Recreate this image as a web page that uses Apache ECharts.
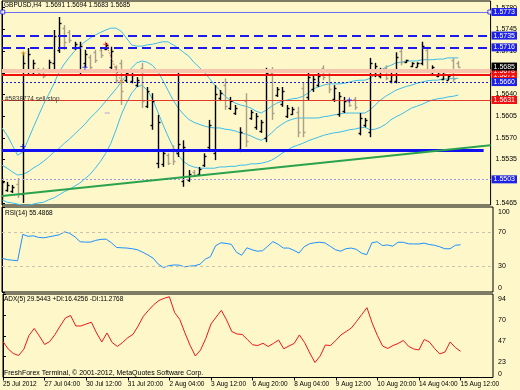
<!DOCTYPE html>
<html>
<head>
<meta charset="utf-8">
<script src="https://cdn.jsdelivr.net/npm/echarts@6.0.0/dist/echarts.min.js"></script>
<style>
html,body{margin:0;padding:0;background:#FDF7C9;}
#chart{width:520px;height:390px;}
</style>
</head>
<body>
<div id="chart"></div>
<script>
// ---------- data ----------
const timeLabels = ["25 Jul 2012","27 Jul 04:00","30 Jul 12:00","31 Jul 20:00","2 Aug 04:00","3 Aug 12:00","6 Aug 20:00","8 Aug 04:00","9 Aug 12:00","10 Aug 20:00","14 Aug 04:00","15 Aug 12:00"];
const timeLabelBars = [0,8,16,24,32,40,48,56,64,72,80,88];

const opens = [1.5478,1.5486,1.5484,1.5495,1.5480,1.5678,1.5676,1.5681,1.5678,1.5680,
1.5690,1.5712,1.5748,1.5740,1.5715,1.5680,1.5690,1.5700,1.5708,1.5712,
1.5714,1.5684,1.5684,1.5690,1.5663,1.5662,1.5655,1.5682,1.5622,1.5590,
1.5530,1.5527,1.5542,1.5552,1.5545,1.5500,1.5502,1.5515,1.5512,1.5526,
1.5555,1.5545,1.5634,1.5655,1.5618,1.5610,1.5552,1.5630,1.5602,1.5587,
1.5581,1.5570,1.5675,1.5639,1.5624,1.5605,1.5609,1.5612,1.5650,1.5636,
1.5648,1.5655,1.5682,1.5672,1.5632,1.5608,1.5614,1.5629,1.5632,1.5578,
1.5590,1.5580,1.5672,1.5669,1.5683,1.5661,1.5662,1.5710,1.5692,1.5686,
1.5685,1.5690,1.5712,1.5673,1.5670,1.5665,1.5664,1.5695,1.5691];
const highs = [1.5505,1.5499,1.5494,1.5505,1.5708,1.5715,1.5696,1.5683,1.5683,1.5696,
1.5744,1.5765,1.5752,1.5744,1.5725,1.5725,1.5712,1.5704,1.5712,1.5715,
1.5723,1.5717,1.5687,1.5696,1.5679,1.5676,1.5668,1.5691,1.5652,1.5642,
1.5607,1.5550,1.5545,1.5558,1.5676,1.5566,1.5518,1.5518,1.5523,1.5545,
1.5599,1.5655,1.5647,1.5666,1.5636,1.5623,1.5587,1.5642,1.5615,1.5610,
1.5599,1.5683,1.5684,1.5652,1.5652,1.5623,1.5620,1.5620,1.5660,1.5676,
1.5671,1.5676,1.5687,1.5679,1.5655,1.5644,1.5636,1.5631,1.5636,1.5610,
1.5602,1.5699,1.5691,1.5683,1.5687,1.5676,1.5708,1.5715,1.5696,1.5692,
1.5692,1.5725,1.5717,1.5687,1.5679,1.5676,1.5671,1.5699,1.5694];
const lows = [1.5470,1.5483,1.5481,1.5473,1.5465,1.5671,1.5671,1.5671,1.5666,1.5676,
1.5676,1.5707,1.5712,1.5723,1.5712,1.5671,1.5684,1.5679,1.5691,1.5699,
1.5712,1.5679,1.5658,1.5623,1.5660,1.5658,1.5652,1.5618,1.5618,1.5583,
1.5521,1.5523,1.5526,1.5526,1.5539,1.5491,1.5499,1.5507,1.5510,1.5523,
1.5550,1.5534,1.5631,1.5615,1.5615,1.5607,1.5547,1.5555,1.5599,1.5583,
1.5578,1.5563,1.5599,1.5636,1.5620,1.5602,1.5607,1.5571,1.5571,1.5631,
1.5644,1.5652,1.5663,1.5642,1.5628,1.5604,1.5610,1.5620,1.5615,1.5574,
1.5587,1.5571,1.5668,1.5666,1.5663,1.5658,1.5658,1.5687,1.5691,1.5684,
1.5684,1.5687,1.5676,1.5671,1.5668,1.5663,1.5663,1.5660,1.5683];
const closes = [1.5498,1.5494,1.5490,1.5479,1.5690,1.5705,1.5690,1.5674,1.5670,1.5692,
1.5735,1.5755,1.5725,1.5728,1.5722,1.5718,1.5706,1.5684,1.5695,1.5703,
1.5720,1.5710,1.5664,1.5645,1.5675,1.5672,1.5664,1.5630,1.5645,1.5630,
1.5595,1.5545,1.5530,1.5532,1.5560,1.5555,1.5512,1.5510,1.5520,1.5540,
1.5590,1.5640,1.5643,1.5622,1.5630,1.5618,1.5580,1.5565,1.5612,1.5605,
1.5595,1.5675,1.5610,1.5648,1.5645,1.5618,1.5616,1.5580,1.5580,1.5668,
1.5665,1.5670,1.5668,1.5648,1.5650,1.5638,1.5630,1.5623,1.5620,1.5602,
1.5598,1.5690,1.5686,1.5679,1.5667,1.5672,1.5700,1.5692,1.5695,1.5690,
1.5690,1.5718,1.5680,1.5684,1.5677,1.5673,1.5669,1.5665,1.5685];

const bbUpper = [1.5586,1.5574,1.5558,1.5542,1.5547,1.5566,1.5586,1.5605,1.5624,1.5640,
1.5657,1.5676,1.5689,1.5700,1.5710,1.5718,1.5725,1.5731,1.5736,1.5740,
1.5744,1.5747,1.5747,1.5742,1.5731,1.5720,1.5718,1.5718,1.5720,1.5721,
1.5723,1.5725,1.5725,1.5720,1.5715,1.5708,1.5702,1.5692,1.5684,1.5676,
1.5666,1.5655,1.5647,1.5637,1.5631,1.5626,1.5623,1.5621,1.5618,1.5613,
1.5610,1.5615,1.5621,1.5626,1.5629,1.5631,1.5633,1.5634,1.5637,1.5642,
1.5649,1.5652,1.5655,1.5657,1.5657,1.5657,1.5658,1.5660,1.5662,1.5663,
1.5663,1.5666,1.5673,1.5679,1.5684,1.5687,1.5691,1.5692,1.5694,1.5694,
1.5694,1.5696,1.5696,1.5696,1.5697,1.5697,1.5699,1.5699,1.5699];
const bbMiddle = [1.5526,1.5521,1.5515,1.5510,1.5511,1.5515,1.5521,1.5526,1.5532,1.5539,
1.5547,1.5553,1.5561,1.5568,1.5576,1.5584,1.5592,1.5602,1.5610,1.5619,
1.5629,1.5639,1.5649,1.5660,1.5671,1.5683,1.5691,1.5694,1.5692,1.5687,
1.5678,1.5663,1.5647,1.5631,1.5618,1.5608,1.5600,1.5595,1.5592,1.5589,
1.5587,1.5586,1.5586,1.5584,1.5583,1.5581,1.5578,1.5576,1.5573,1.5569,
1.5566,1.5571,1.5578,1.5586,1.5592,1.5597,1.5600,1.5602,1.5602,1.5602,
1.5602,1.5602,1.5604,1.5605,1.5607,1.5608,1.5610,1.5610,1.5610,1.5610,
1.5610,1.5615,1.5623,1.5631,1.5637,1.5642,1.5647,1.5650,1.5653,1.5655,
1.5658,1.5660,1.5662,1.5663,1.5663,1.5665,1.5665,1.5666,1.5666];
const bbLower = [1.5470,1.5466,1.5465,1.5463,1.5461,1.5461,1.5463,1.5465,1.5466,1.5470,
1.5473,1.5478,1.5483,1.5487,1.5492,1.5497,1.5504,1.5511,1.5521,1.5532,
1.5545,1.5561,1.5583,1.5607,1.5626,1.5642,1.5652,1.5655,1.5647,1.5633,
1.5613,1.5592,1.5573,1.5555,1.5542,1.5532,1.5526,1.5523,1.5521,1.5521,
1.5521,1.5521,1.5523,1.5523,1.5524,1.5524,1.5526,1.5526,1.5528,1.5528,
1.5529,1.5531,1.5534,1.5539,1.5545,1.5550,1.5555,1.5558,1.5561,1.5565,
1.5568,1.5571,1.5574,1.5576,1.5578,1.5579,1.5581,1.5583,1.5584,1.5586,
1.5587,1.5583,1.5584,1.5587,1.5592,1.5599,1.5604,1.5608,1.5613,1.5618,
1.5621,1.5624,1.5628,1.5631,1.5633,1.5634,1.5636,1.5637,1.5639];

const rsi = [39.8,38.0,37.4,36.8,67.8,65.5,66.1,64.3,63.7,64.9,
66.1,67.3,70.8,69.0,64.9,59.1,58.7,58.7,60.8,61.9,
62.2,57.9,52.4,52.0,51.7,50.9,49.7,46.8,43.6,39.8,
32.7,28.7,31.0,31.8,31.6,29.6,30.4,31.0,32.6,38.6,
41.5,54.4,57.9,57.2,56.1,46.8,43.2,52.0,49.7,48.0,
48.5,53.8,59.3,56.1,51.7,51.7,49.1,45.8,53.2,56.7,
57.9,58.6,57.7,53.8,49.7,48.0,50.9,51.7,50.2,45.8,
43.9,57.9,59.1,54.7,55.3,54.0,58.5,58.5,56.7,56.5,
56.5,57.5,55.9,55.0,53.2,50.9,50.9,55.0,55.5];
const adx = [40.5,32.1,27.0,24.8,31.8,47.3,55.2,46.7,37.2,40.5,
48.4,58.0,67.0,69.8,58.0,58.0,60.2,62.2,50.1,40.0,
50.1,39.4,34.9,39.4,44.8,48.6,58.0,68.9,75.7,82.0,
86.7,89.2,90.9,73.2,65.3,50.1,36.0,24.2,31.0,43.9,
60.2,68.1,75.5,64.8,51.8,49.0,48.4,42.8,36.8,36.0,
38.5,34.9,38.3,42.2,32.3,35.5,38.3,47.9,39.4,27.6,
16.9,24.2,36.6,36.0,41.7,47.9,51.8,55.7,63.1,70.9,
78.6,61.4,47.3,35.5,32.7,36.0,38.3,41.7,35.1,32.1,
31.0,42.8,40.0,32.7,26.5,28.7,40.0,33.8,29.5];

const priceTicks = [1.5465,1.5500,1.5535,1.5570,1.5605,1.5640,1.5675,1.5710,1.5745,1.5780];
const rsiTicks = [0,30,70,100];
const rsiLevels = [70,30];
const adxTicks = [0,23.5,47,70.5,94];

const resistLevel = 1.5773;
const dashedLevels = [1.5735,1.5716];
const pinkLevel = 1.5678;
const redLevel = 1.5671;
const dottedLevel = 1.5660;
const sellStopLevel = 1.5631;
const supportLevel = 1.5550;
const lowDottedLevel = 1.5503;
const lastPrice = 1.5685;
const trendFrom = [0, 1.5476];
const trendTo = [94.24, 1.5558];
const supportEndBar = 92.9;

const buyMarks = [[4,1.5556],[16,1.5684],[67,1.5631]];
const sellMarks = [[20,1.5721]];
const closeMarks = [[4.1,1.5707],[23,1.5660]];
const pendingMarks = [[20.3,1.5610]];

// ---------- layout ----------
const FONT = '"Liberation Sans", Arial, sans-serif';
const BG = '#FDF7C9';
const BULL = '#000000';
const BEAR = '#A8A088';
const CLEAR = 'rgba(0,0,0,0)';
const xMax = 94.24;
const priceMin = 1.54616, priceMax = 1.57908;

const ohlc = highs.map((h, i) => [i, opens[i], h, lows[i], closes[i]]);

function renderBar(params, api) {
  const i = api.value(0);
  const o = api.coord([i, api.value(1)]);
  const h = api.coord([i, api.value(2)]);
  const l = api.coord([i, api.value(3)]);
  const c = api.coord([i, api.value(4)]);
  const x = Math.round(o[0]) + 0.5;
  const col = api.value(4) >= api.value(1) ? BULL : BEAR;
  const st = {stroke: col, lineWidth: 1.4};
  return {type: 'group', children: [
    {type: 'line', shape: {x1: x, y1: h[1], x2: x, y2: l[1]}, style: st},
    {type: 'line', shape: {x1: x - 2, y1: Math.round(o[1]) + 0.5, x2: x, y2: Math.round(o[1]) + 0.5}, style: st},
    {type: 'line', shape: {x1: x, y1: Math.round(c[1]) + 0.5, x2: x + 2, y2: Math.round(c[1]) + 0.5}, style: st}
  ]};
}

function boxLabel(bg) {
  return {show: true, position: 'end', distance: 1, formatter: p => Number(p.value).toFixed(4),
    color: '#fff', backgroundColor: bg, fontSize: 7, fontFamily: FONT, padding: [1, 2, 0, 2]};
}
const noLabel = {show: false};
const hidden = {color: CLEAR, width: 0};

const levelMarks = [
  {yAxis: resistLevel, lineStyle: {color: '#6E6EF5', width: 1, type: 'solid'}, label: boxLabel('#1E22E6')},
  {yAxis: dashedLevels[0], lineStyle: {color: '#1A1AF0', width: 2, type: [9, 5]}, label: boxLabel('#1E22E6')},
  {yAxis: dashedLevels[1], lineStyle: {color: '#1A1AF0', width: 2, type: [9, 5]}, label: boxLabel('#1E22E6')},
  {yAxis: pinkLevel, lineStyle: {color: '#F6C7AE', width: 4, type: 'solid'}, label: noLabel},
  {yAxis: redLevel, lineStyle: {color: '#F01010', width: 2, type: 'solid'}, label: boxLabel('#F01010')},
  {yAxis: dottedLevel, lineStyle: {color: '#1A1AD0', width: 1, type: [2, 2]}, label: boxLabel('#1E22E6')},
  {yAxis: pinkLevel, lineStyle: hidden, label: boxLabel('#F01010')},
  {yAxis: lastPrice, lineStyle: hidden, label: boxLabel('#000000')},
  {yAxis: sellStopLevel, lineStyle: {color: '#E23A28', width: 1, type: 'solid'}, label: boxLabel('#F01010')},
  {yAxis: sellStopLevel, lineStyle: hidden, label: {show: true, position: 'insideStartTop', distance: [3, -3],
      formatter: '#5838774 sell stop', color: '#3A3A3A', fontSize: 6.5, fontFamily: FONT}},
  {yAxis: lowDottedLevel, lineStyle: {color: '#9C96E6', width: 1, type: [2, 2]}, label: boxLabel('#1E22E6')},
  [{coord: [0, supportLevel], lineStyle: {color: '#1010F0', width: 3, type: 'solid'}, label: noLabel}, {coord: [supportEndBar, supportLevel]}],
  [{coord: trendFrom, lineStyle: {color: '#2BA24E', width: 2, type: 'solid'}, label: noLabel}, {coord: trendTo}],
  [{coord: sellMarks[0], lineStyle: {color: '#E02020', width: 1, type: [1, 2]}, label: noLabel}, {coord: closeMarks[1]}]
];

const cross = 'path://M2,0H3V2H5V3H3V5H2V3H0V2H2Z';

const option = {
  backgroundColor: BG,
  animation: false,
  textStyle: {fontFamily: FONT},
  grid: [
    {left: 2, top: 1, width: 491, height: 204, show: true, borderColor: '#000', borderWidth: 1},
    {left: 2, top: 207, width: 491, height: 85, show: true, borderColor: '#000', borderWidth: 1},
    {left: 2, top: 294, width: 491, height: 83.5, show: true, borderColor: '#000', borderWidth: 1}
  ],
  xAxis: [0, 1, 2].map(g => ({
    type: 'value', gridIndex: g, min: 0, max: xMax, show: g === 2,
    axisLine: {show: false}, splitLine: {show: false},
    axisTick: {show: true, customValues: timeLabelBars, length: 3, lineStyle: {color: '#000'}},
    axisLabel: {customValues: timeLabelBars, align: 'left', margin: 3, fontSize: 6.5, color: '#000', fontFamily: FONT,
      formatter: v => timeLabels[timeLabelBars.indexOf(Math.round(v))]}
  })),
  yAxis: [
    {type: 'value', gridIndex: 0, position: 'right', min: priceMin, max: priceMax,
      axisLine: {show: true, lineStyle: {color: '#000'}}, splitLine: {show: false},
      axisTick: {show: true, customValues: priceTicks, length: 3, lineStyle: {color: '#000'}},
      axisLabel: {customValues: priceTicks, formatter: v => v.toFixed(4), fontSize: 7, color: '#000', margin: 5, fontFamily: FONT}},
    {type: 'value', gridIndex: 1, position: 'right', min: 0, max: 100,
      axisLine: {show: true, lineStyle: {color: '#000'}}, splitLine: {show: false},
      axisTick: {show: true, customValues: rsiTicks, length: 3, lineStyle: {color: '#000'}},
      axisLabel: {customValues: rsiTicks, fontSize: 7, color: '#000', margin: 5, fontFamily: FONT,
        formatter: v => v === 100 ? '{t|100}' : (v === 0 ? '{b|0}' : '{m|' + v + '}'),
        rich: {t: {padding: [10, 0, 0, 0], fontSize: 7}, b: {padding: [0, 0, 8, 0], fontSize: 7}, m: {fontSize: 7}}}},
    {type: 'value', gridIndex: 2, position: 'right', min: 0, max: 94,
      axisLine: {show: true, lineStyle: {color: '#000'}}, splitLine: {show: false},
      axisTick: {show: true, customValues: adxTicks, length: 3, lineStyle: {color: '#000'}},
      axisLabel: {customValues: adxTicks, fontSize: 7, color: '#000', margin: 5, fontFamily: FONT,
        formatter: v => v === 0 ? '{b|0}' : '{t|' + Math.floor(v) + '}',
        rich: {t: {padding: [11, 0, 0, 0], fontSize: 7}, b: {padding: [0, 0, 7, 0], fontSize: 7}}}}
  ],
  series: [
    {type: 'line', name: 'bbU', xAxisIndex: 0, yAxisIndex: 0, data: bbUpper.map((v, i) => [i, v]), showSymbol: false,
      lineStyle: {color: '#3CBDEB', width: 1}, z: 2, silent: true},
    {type: 'line', name: 'bbM', xAxisIndex: 0, yAxisIndex: 0, data: bbMiddle.map((v, i) => [i, v]), showSymbol: false,
      lineStyle: {color: '#3CBDEB', width: 1}, z: 2, silent: true},
    {type: 'line', name: 'bbL', xAxisIndex: 0, yAxisIndex: 0, data: bbLower.map((v, i) => [i, v]), showSymbol: false,
      lineStyle: {color: '#3CBDEB', width: 1}, z: 2, silent: true},
    {type: 'custom', name: 'GBPUSD', xAxisIndex: 0, yAxisIndex: 0, data: ohlc, renderItem: renderBar,
      dimensions: ['i', 'open', 'high', 'low', 'close'], encode: {x: 0, y: [1, 2, 3, 4]}, z: 3, clip: true},
    {type: 'line', name: 'levels', xAxisIndex: 0, yAxisIndex: 0, data: [], z: 4, silent: true,
      markLine: {symbol: ['none', 'none'], precision: 4, silent: true, animation: false, data: levelMarks}},
    {type: 'scatter', xAxisIndex: 0, yAxisIndex: 0, data: buyMarks, symbol: cross, symbolSize: 5,
      itemStyle: {color: '#1010F0'}, z: 5, silent: true},
    {type: 'scatter', xAxisIndex: 0, yAxisIndex: 0, data: sellMarks, symbol: cross, symbolSize: 5,
      itemStyle: {color: '#F02020'}, z: 5, silent: true},
    {type: 'scatter', xAxisIndex: 0, yAxisIndex: 0, data: closeMarks, symbol: cross, symbolSize: 5,
      itemStyle: {color: '#F0A020'}, z: 5, silent: true},
    {type: 'scatter', xAxisIndex: 0, yAxisIndex: 0, data: pendingMarks, symbol: 'rect', symbolSize: [5, 1],
      itemStyle: {color: '#9A8FE0'}, z: 5, silent: true},
    {type: 'scatter', xAxisIndex: 0, yAxisIndex: 0, data: [[0.15, resistLevel], [94.1, resistLevel]], symbol: 'rect', symbolSize: 4,
      itemStyle: {color: '#FFFFFF', borderColor: '#2020E0', borderWidth: 1}, z: 5, silent: true},
    {type: 'line', name: 'RSI', xAxisIndex: 1, yAxisIndex: 1, data: rsi.map((v, i) => [i, v]), showSymbol: false,
      lineStyle: {color: '#1E90FF', width: 1}, z: 3, silent: true,
      markLine: {symbol: ['none', 'none'], silent: true, label: {show: false},
        lineStyle: {color: '#C8C2B0', width: 1, type: [3, 3]}, data: rsiLevels.map(v => ({yAxis: v}))}},
    {type: 'line', name: 'ADX', xAxisIndex: 2, yAxisIndex: 2, data: adx.map((v, i) => [i, v]), showSymbol: false,
      lineStyle: {color: '#F01818', width: 1}, z: 3, silent: true}
  ],
  graphic: [
    {type: 'text', left: 4, top: 2, z: 10, style: {text: 'GBPUSD,H4  ' + [opens[88], highs[88], lows[88], closes[88]].map(v => v.toFixed(4)).join(' '), fontSize: 6.5, fill: '#000', fontFamily: FONT}},
    {type: 'text', left: 5, top: 210, z: 10, style: {text: 'RSI(14) 55.4868', fontSize: 6.5, fill: '#000', fontFamily: FONT}},
    {type: 'text', left: 4, top: 296, z: 10, style: {text: 'ADX(5) 29.5443 +DI:16.4256 -DI:11.2768', fontSize: 6.5, fill: '#000', fontFamily: FONT}},
    {type: 'text', left: 4, top: 370, z: 10, style: {text: 'FreshForex Terminal, \u00A9 2001-2012, MetaQuotes Software Corp.', fontSize: 7, fill: '#000', fontFamily: FONT}}
  ]
};

const chart = echarts.init(document.getElementById('chart'), null, {renderer: 'canvas'});
chart.setOption(option);
</script>
</body>
</html>
